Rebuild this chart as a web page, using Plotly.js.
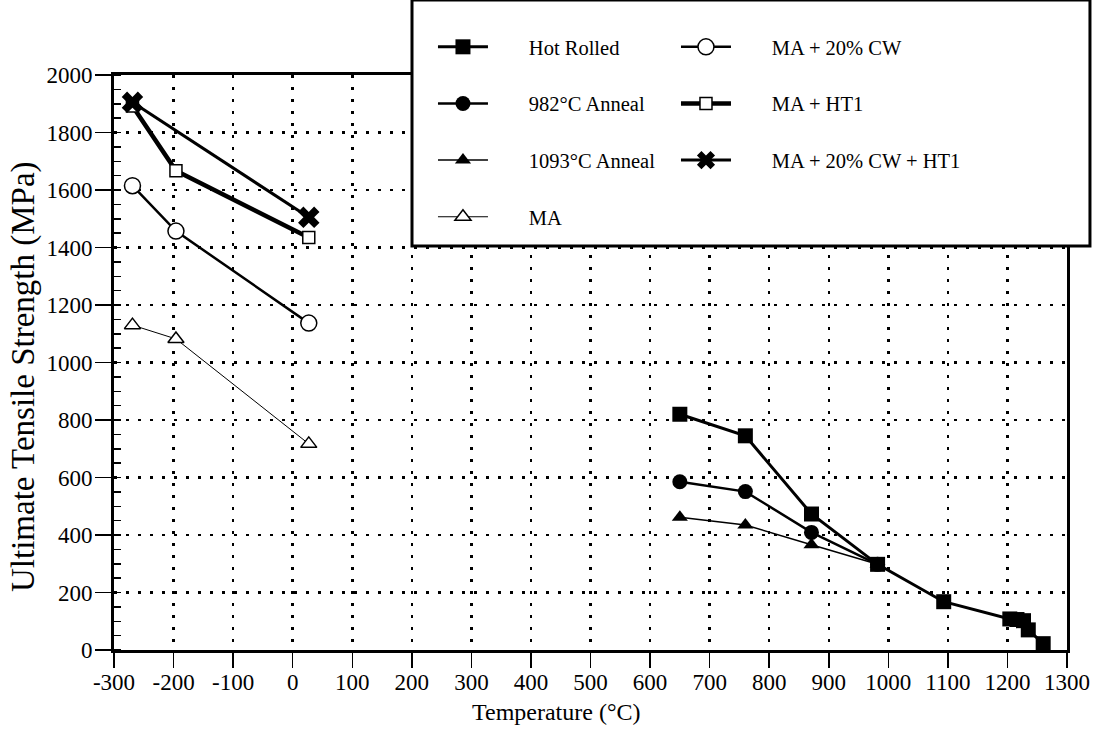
<!DOCTYPE html>
<html>
<head>
<meta charset="utf-8">
<script src="https://cdn.plot.ly/plotly-3.0.1.min.js"></script>
<style>
  html, body { margin: 0; padding: 0; background: #ffffff; }
  #chart { width: 1096px; height: 741px; }
</style>
</head>
<body>
<div id="chart"></div>
<script>
// Test temperatures (°C) and ultimate tensile strength (MPa) for each condition
const hotRolledT   = [650, 760, 871, 982, 1093, 1204, 1216, 1227, 1235, 1260];
const hotRolledUTS = [820, 745, 473, 298, 168, 108, 106, 102, 70, 22];

const anneal982T   = [650, 760, 871, 982];
const anneal982UTS = [585, 551, 409, 298];

const anneal1093T   = [650, 760, 871, 982];
const anneal1093UTS = [462, 435, 366, 298];

const cryoT = [-269, -196, 27];
const maUTS       = [1130, 1082, 717];
const maCwUTS     = [1615, 1457, 1137];
const maHtUTS     = [1892, 1667, 1435];

const maCwHtT   = [-269, 27];
const maCwHtUTS = [1905, 1505];

const xTicks = [-300, -200, -100, 0, 100, 200, 300, 400, 500, 600, 700, 800, 900, 1000, 1100, 1200, 1300];
const yTicks = [0, 200, 400, 600, 800, 1000, 1200, 1400, 1600, 1800, 2000];

const xTitle = 'Temperature (°C)';
const yTitle = 'Ultimate Tensile Strength (MPa)';

const FONT = "'Liberation Serif', 'Times New Roman', serif";
// leading gap between the legend symbol and its label
const PAD = '\u00a0\u00a0\u00a0\u00a0\u00a0\u00a0\u00a0';

function series(name, x, y, lineWidth, marker, legend, group) {
  return {
    type: 'scatter', mode: 'lines+markers', name: PAD + name, x: x, y: y,
    line: { color: '#000000', width: lineWidth },
    marker: marker,
    legend: legend, legendgroup: group,
    hoverinfo: 'x+y'
  };
}

const openMarker = (symbol, size) => ({ symbol: symbol, size: size, color: '#ffffff', line: { color: '#000000', width: 1.5 } });
const solidMarker = (symbol, size) => ({ symbol: symbol, size: size, color: '#000000', line: { color: '#000000', width: 0 } });

const traces = [
  series('Hot Rolled', hotRolledT, hotRolledUTS, 3, solidMarker('square', 15), 'legend', 'g1'),
  series('982°C Anneal', anneal982T, anneal982UTS, 2.5, solidMarker('circle', 15), 'legend', 'g2'),
  series('1093°C Anneal', anneal1093T, anneal1093UTS, 1.5, solidMarker('triangle-up', 14), 'legend', 'g3'),
  series('MA', cryoT, maUTS, 1, openMarker('triangle-up', 14), 'legend', 'g4'),
  series('MA + 20% CW', cryoT, maCwUTS, 2.5, openMarker('circle', 16), 'legend2', 'g5'),
  series('MA + HT1', cryoT, maHtUTS, 4.5, openMarker('square', 12), 'legend2', 'g6'),
  series('MA + 20% CW + HT1', maCwHtT, maCwHtUTS, 3,
         { symbol: 'x', size: 19, color: '#000000', line: { color: '#000000', width: 0 } }, 'legend2', 'g7')
];

const gridDash = '2.5px,9.5px';

const legendStyle = {
  xanchor: 'left', yanchor: 'top',
  bgcolor: 'rgba(0,0,0,0)', borderwidth: 0,
  traceorder: 'grouped', tracegroupgap: 27, itemwidth: 50,
  font: { family: FONT, size: 20.5, color: '#000000' }
};

const layout = {
  width: 1096, height: 741,
  margin: { l: 114, r: 29, t: 75, b: 91, autoexpand: false },
  paper_bgcolor: '#ffffff', plot_bgcolor: '#ffffff',
  font: { family: FONT, color: '#000000', size: 20 },
  showlegend: true,
  xaxis: {
    range: [-300, 1300], tickvals: xTicks, ticktext: xTicks.map(String),
    ticks: 'outside', ticklen: 15, tickwidth: 1.5, tickcolor: '#000000',
    ticklabelstandoff: -6,
    showline: true, linewidth: 3, linecolor: '#000000', mirror: true,
    showgrid: true, gridcolor: '#000000', gridwidth: 2.5, griddash: gridDash,
    zeroline: false, automargin: false,
    tickfont: { family: FONT, size: 23, color: '#000000' }
  },
  yaxis: {
    range: [0, 2000], tickvals: yTicks, ticktext: yTicks.map(String),
    ticks: 'outside', ticklen: 16, tickwidth: 1.5, tickcolor: '#000000',
    ticklabelstandoff: -2,
    minor: { dtick: 50, tick0: 0, ticks: 'inside', ticklen: 7, tickwidth: 1.5, tickcolor: '#000000', showgrid: false },
    showline: true, linewidth: 3, linecolor: '#000000', mirror: true,
    showgrid: true, gridcolor: '#000000', gridwidth: 2.5, griddash: gridDash,
    zeroline: false, automargin: false,
    tickfont: { family: FONT, size: 23, color: '#000000' }
  },
  legend: Object.assign({ x: 0.3347, y: 1.0835 }, legendStyle),
  legend2: Object.assign({ x: 0.5897, y: 1.0835 }, legendStyle),
  annotations: [
    {
      text: xTitle, xref: 'paper', yref: 'paper', x: 0.4638, y: -0.1078,
      xanchor: 'center', yanchor: 'middle', showarrow: false,
      font: { family: FONT, size: 24, color: '#000000' }
    },
    {
      text: yTitle, xref: 'paper', yref: 'paper', x: -0.0944, y: 0.4748,
      xanchor: 'center', yanchor: 'middle', textangle: -90, showarrow: false,
      font: { family: FONT, size: 33, color: '#000000' }
    }
  ],
  shapes: [{
    type: 'rect', xref: 'paper', yref: 'paper', layer: 'above',
    x0: 0.3127, x1: 1.0241, y0: 0.7026, y1: 1.1304,
    fillcolor: '#ffffff', line: { color: '#000000', width: 3 }
  }]
};

Plotly.newPlot('chart', traces, layout, { displayModeBar: false, staticPlot: true });
</script>
</body>
</html>
